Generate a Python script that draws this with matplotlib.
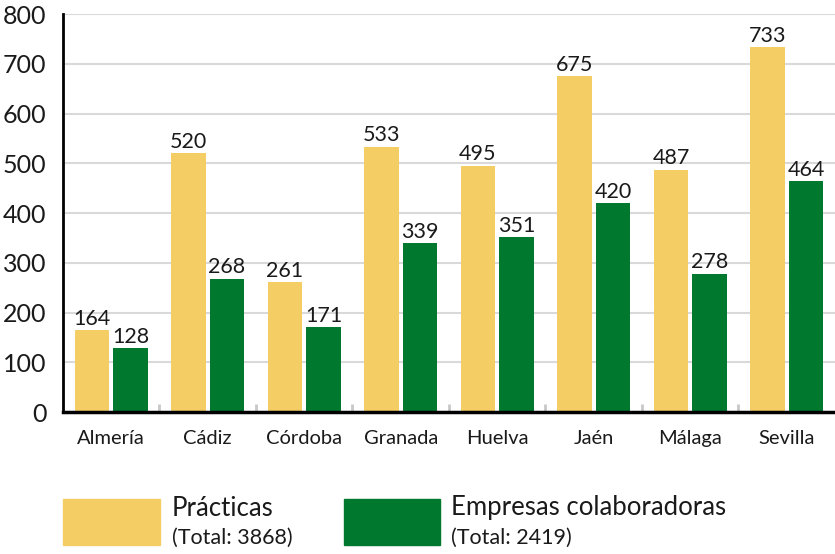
import numpy as np
import matplotlib.pyplot as plt
from matplotlib.patches import Rectangle

plt.rcParams['font.family'] = ['Lato', 'DejaVu Sans']

# Datos por provincia
provincias = ['Almería', 'Cádiz', 'Córdoba', 'Granada', 'Huelva', 'Jaén', 'Málaga', 'Sevilla']
practicas = [164, 520, 261, 533, 495, 675, 487, 733]
empresas = [128, 268, 171, 339, 351, 420, 278, 464]

amarillo = '#F4CD64'
verde = '#00782D'

fig = plt.figure(figsize=(8.35, 5.54), dpi=100)
ax = fig.add_axes([0.0754, 0.2563, 0.9246, 0.7184])

x = np.arange(len(provincias))
w = 0.36
b1 = ax.bar(x - 0.2, practicas, w, color=amarillo, zorder=3)
b2 = ax.bar(x + 0.2, empresas, w, color=verde, zorder=3)

for bars in (b1, b2):
    for r in bars:
        ax.annotate(str(int(r.get_height())), (r.get_x() + r.get_width() / 2, r.get_height()),
                    xytext=(0, 1), textcoords='offset points', ha='center', va='bottom',
                    fontsize=15.5, color='#1a1a1a')

ax.set_xlim(-0.5, len(provincias) - 0.5)
ax.set_ylim(0, 800)
ax.set_yticks(range(0, 801, 100))
ax.yaxis.grid(True, color='#d9d9d9', linewidth=1.5, zorder=0)
ax.set_xticks(x)
ax.set_xticklabels(provincias, fontsize=14.5, color='#1a1a1a')
ax.tick_params(axis='x', length=0, pad=13)
ax.tick_params(axis='y', length=0, pad=12, labelsize=18, labelcolor='#1a1a1a')

# separadores de grupos
ax.set_xticks(x[:-1] + 0.5, minor=True)
ax.tick_params(axis='x', which='minor', direction='in', length=6, width=2, color='#c8c8c8')

for s in ['top', 'right']:
    ax.spines[s].set_visible(False)
ax.spines['left'].set_linewidth(2)
ax.spines['bottom'].set_linewidth(2.5)
ax.spines['left'].set_zorder(4)
ax.spines['bottom'].set_zorder(4)

# Leyenda
W, H = 835, 554
def fx(px):
    return px / W
def fy(py):
    return 1 - py / H

fig.patches.append(Rectangle((fx(63), fy(545)), fx(160) - fx(63), fy(499) - fy(545),
                             transform=fig.transFigure, color=amarillo))
fig.patches.append(Rectangle((fx(344), fy(545)), fx(440) - fx(344), fy(499) - fy(545),
                             transform=fig.transFigure, color=verde))
fig.text(fx(172), fy(508), 'Prácticas', fontsize=18.5, va='center', color='#1a1a1a')
fig.text(fx(172), fy(538), f'(Total: {sum(practicas)})', fontsize=15.5, va='center', color='#1a1a1a')
fig.text(fx(451), fy(508), 'Empresas colaboradoras', fontsize=18.5, va='center', color='#1a1a1a')
fig.text(fx(451), fy(538), f'(Total: {sum(empresas)})', fontsize=15.5, va='center', color='#1a1a1a')

fig.savefig('out.png', dpi=100)
